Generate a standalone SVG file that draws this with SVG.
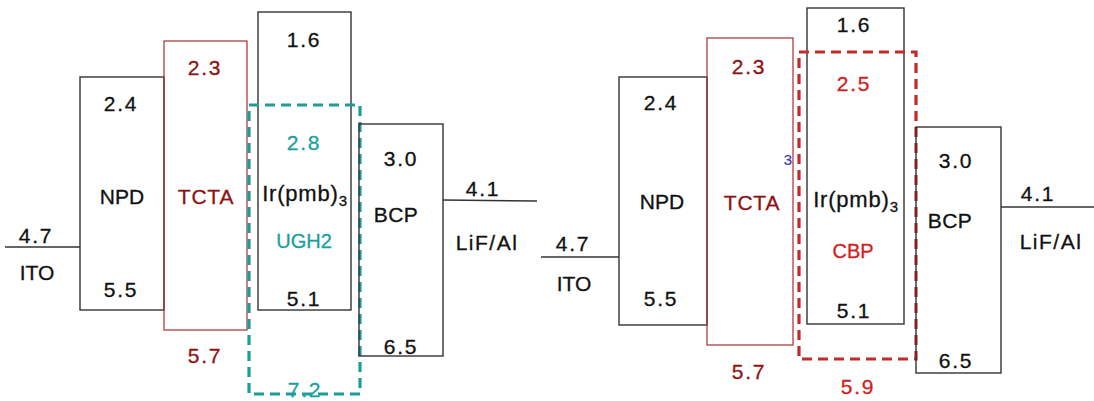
<svg xmlns="http://www.w3.org/2000/svg" width="1094" height="401" viewBox="0 0 1094 401">
<style>
text{font-family:"Liberation Sans",Arial,sans-serif;font-size:21px;text-anchor:middle;fill:#111;stroke:#111;stroke-width:0.3}
.n{letter-spacing:1.8px}
.l{font-size:21px}
.box{fill:none;stroke:#333;stroke-width:1.4}
.tbox{fill:none;stroke:#A33030;stroke-width:1.2}
.line{stroke:#333;stroke-width:1.4}
.dr{fill:#8E1212;stroke:#8E1212}
.tl{fill:#1AA0A0;stroke:#1AA0A0}
.rd{fill:#D41C1C;stroke:#D41C1C}
.tdash{fill:none;stroke:#1C9C9C;stroke-width:3.2;stroke-dasharray:10,6}
.rdash{fill:none;stroke:#C42A2A;stroke-width:3.2;stroke-dasharray:10,6}
</style>
<rect width="1094" height="401" fill="#fff"/>
<g id="connectors">
<line class="line" x1="5" y1="247" x2="80" y2="247"/>
<line class="line" x1="443" y1="200" x2="537" y2="201"/>
<line class="line" x1="541" y1="257" x2="619" y2="257"/>
<line class="line" x1="1001" y1="207" x2="1094" y2="207"/>
</g>
<!-- Left diagram -->
<g id="ito-left">
<text class="n" x="36" y="243">4.7</text>
<text class="l" x="37" y="280">ITO</text>
</g>
<g id="npd-left">
<rect class="box" x="80" y="77" width="84" height="233"/>
<text class="n" x="121" y="111">2.4</text>
<text class="l" x="122" y="204">NPD</text>
<text class="n" x="121" y="297">5.5</text>
</g>
<g id="tcta-left">
<rect class="tbox" x="164" y="41" width="83" height="289"/>
<text class="n dr" x="205" y="75">2.3</text>
<text class="l dr" x="206" y="204" style="letter-spacing:0.8px">TCTA</text>
<text class="n dr" x="205" y="363">5.7</text>
</g>
<g id="ir-left">
<rect class="box" x="258" y="12" width="93" height="298"/>
<text class="n" x="304" y="47">1.6</text>
<text class="n tl" x="304" y="150">2.8</text>
<text x="305" y="201" style="font-size:22px;letter-spacing:0.8px">Ir(pmb)<tspan font-size="15" dy="5">3</tspan></text>
<text class="tl" x="304" y="248" style="font-size:20px">UGH2</text>
<text class="n" x="304" y="306">5.1</text>
</g>
<g id="ugh2-left">
<text class="n tl" x="305" y="397">7.2</text>
<rect class="tdash" x="249" y="105" width="111" height="289"/>
</g>
<g id="bcp-left">
<rect class="box" x="359" y="124" width="84" height="232"/>
<text class="n" x="401" y="166">3.0</text>
<text class="l" x="396" y="222" style="letter-spacing:0.5px">BCP</text>
<text class="n" x="401" y="354">6.5</text>
</g>
<g id="lif-left">
<text class="n" x="483" y="196">4.1</text>
<text class="l" x="487" y="250" style="letter-spacing:1.5px">LiF/Al</text>
</g>
<!-- Right diagram -->
<g id="ito-right">
<text class="n" x="573" y="251">4.7</text>
<text class="l" x="574" y="291">ITO</text>
</g>
<g id="npd-right">
<rect class="box" x="619" y="77" width="88" height="248"/>
<text class="n" x="661" y="110">2.4</text>
<text class="l" x="662" y="209">NPD</text>
<text class="n" x="661" y="306">5.5</text>
</g>
<g id="tcta-right">
<rect class="tbox" x="707" y="38" width="86" height="307"/>
<text class="n dr" x="749" y="74">2.3</text>
<text class="l dr" x="752" y="210" style="letter-spacing:0.8px">TCTA</text>
<text class="n dr" x="749" y="379">5.7</text>
<text x="788" y="165" style="font-size:15px;fill:#3C3CB0;stroke:#3C3CB0;stroke-width:0.2">3</text>
</g>
<g id="ir-right">
<rect class="box" x="807" y="8" width="97" height="316"/>
<text class="n" x="854" y="32">1.6</text>
<text class="n rd" x="854" y="91">2.5</text>
<text x="856" y="207" style="font-size:22px;letter-spacing:0.8px">Ir(pmb)<tspan font-size="15" dy="5">3</tspan></text>
<text class="rd" x="853" y="258" style="font-size:20px">CBP</text>
<text class="n" x="854" y="318">5.1</text>
</g>
<g id="cbp-right">
<rect class="rdash" x="799" y="52" width="117" height="307"/>
<text class="n rd" x="858" y="394">5.9</text>
</g>
<g id="bcp-right">
<rect class="box" x="916" y="127" width="85" height="246"/>
<text class="n" x="956" y="168">3.0</text>
<text class="l" x="950" y="228" style="letter-spacing:0.5px">BCP</text>
<text class="n" x="956" y="368">6.5</text>
</g>
<g id="lif-right">
<text class="n" x="1038" y="201">4.1</text>
<text class="l" x="1051" y="249" style="letter-spacing:1.5px">LiF/Al</text>
</g>
</svg>
